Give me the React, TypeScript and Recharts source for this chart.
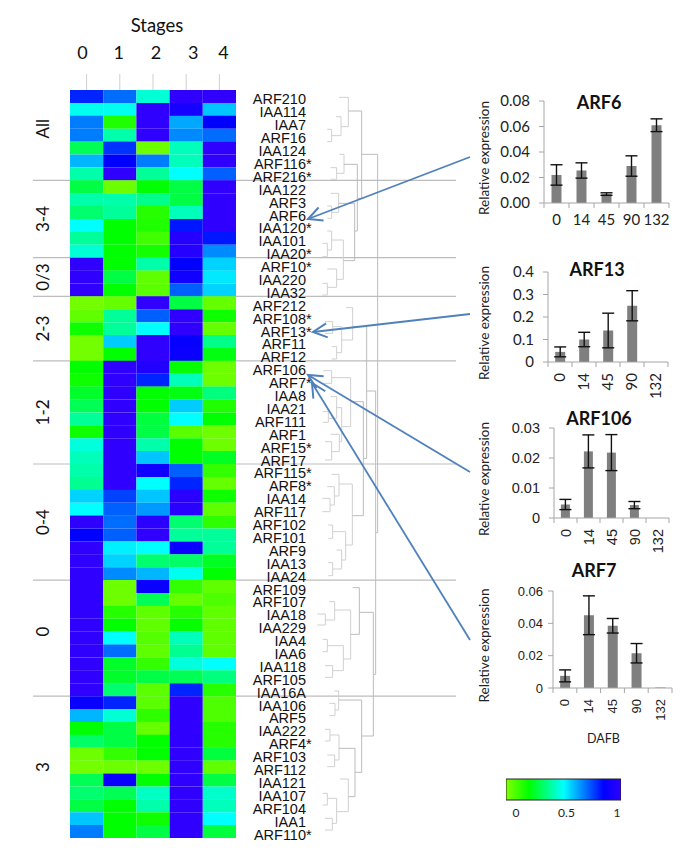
import { Bar, BarChart, Cell, ErrorBar, ReferenceLine, Scatter, ScatterChart, XAxis, YAxis } from 'recharts';

const stageLabels = ['0', '1', '2', '3', '4'];
const stageTicks = [0.5, 1.5, 2.5, 3.5, 4.5];
const stageLabelNudge = [-4, -1, 3, 7, 4];
const stageKeys = ['s0', 's1', 's2', 's3', 's4'];

const geneLabels = [
  'ARF210', 'IAA114', 'IAA7', 'ARF16', 'IAA124', 'ARF116*', 'ARF216*', 'IAA122', 'ARF3', 'ARF6',
  'IAA120*', 'IAA101', 'IAA20*', 'ARF10*', 'IAA220', 'IAA32', 'ARF212', 'ARF108*', 'ARF13*', 'ARF11',
  'ARF12', 'ARF106', 'ARF7*', 'IAA8', 'IAA21', 'ARF111', 'ARF1', 'ARF15*', 'ARF17', 'ARF115*',
  'ARF8*', 'IAA14', 'ARF117', 'ARF102', 'ARF101', 'ARF9', 'IAA13', 'IAA24', 'ARF109', 'ARF107',
  'IAA18', 'IAA229', 'IAA4', 'IAA6', 'IAA118', 'ARF105', 'IAA16A', 'IAA106', 'ARF5', 'IAA222',
  'ARF4*', 'ARF103', 'ARF112', 'IAA121', 'IAA107', 'ARF104', 'IAA1', 'ARF110*',
];

// one row per gene, one column per stage
const heatValues = [
  [0.8, 0.7, 0.45, 1, 1], [0.48, 0.48, 1, 0.92, 0.58], [0.68, 0.15, 1, 0.62, 0.85], [0.68, 0.4, 1, 0.66, 0.7],
  [0.3, 0.78, 0.03, 0.42, 1], [0.6, 0.85, 0.68, 0.42, 1], [0.4, 1, 0.38, 0.5, 0.72], [0.28, 0.03, 0.2, 0.28, 1],
  [0.4, 0.4, 0.36, 0.28, 1], [0.33, 0.38, 0.14, 0.42, 1], [0.5, 0.2, 0.15, 0.82, 1], [0.38, 0.2, 0.1, 0.97, 0.82],
  [0.45, 0.2, 0.17, 0.97, 0.66], [1, 0.2, 0.4, 0.85, 0.56], [1, 0.28, 0.05, 0.9, 0.53], [1, 0.2, 0.06, 0.72, 0.56],
  [0.02, 0.04, 1, 0.28, 0.04], [0.05, 0.38, 0.72, 1, 0.18], [0.18, 0.38, 0.5, 1, 0.04], [0.02, 0.57, 1, 0.87, 0.36],
  [0.02, 0.2, 1, 0.88, 0.22], [0.2, 1, 0.95, 0.19, 0.03], [0.18, 1, 0.8, 0.42, 0.03], [0.25, 1, 0.2, 0.22, 0.35],
  [0.3, 1, 0.2, 0.57, 0.15], [0.38, 1, 0.27, 0.5, 0.2], [0.18, 1, 0.28, 0.06, 0.03], [0.46, 1, 0.4, 0.2, 0.03],
  [0.42, 1, 0.58, 0.2, 0.24], [0.4, 1, 0.9, 0.72, 0.12], [0.37, 1, 0.5, 0.8, 0.04], [0.56, 0.76, 0.58, 0.98, 0.18],
  [0.5, 0.72, 0.64, 0.98, 0.05], [1, 0.7, 0.98, 0.33, 0.13], [0.85, 0.72, 1, 0.38, 0.38], [1, 0.52, 0.5, 0.88, 0.38],
  [1, 0.56, 0.33, 0.32, 0.24], [1, 0.66, 0.6, 0.48, 0.2], [1, 0.03, 0.88, 0.12, 0.05], [1, 0.03, 0.3, 0.04, 0.08],
  [1, 0.14, 0.05, 0.14, 0.05], [1, 0.2, 0.05, 0.19, 0.05], [1, 0.5, 0.07, 0.42, 0.05], [1, 0.7, 0.05, 0.37, 0.05],
  [1, 0.25, 0.12, 0.46, 0.5], [1, 0.25, 0.28, 0.3, 0.35], [1, 0.33, 0.06, 0.8, 0.14], [0.88, 0.8, 0.06, 1, 0.08],
  [0.6, 0.45, 0.13, 1, 0.08], [0.2, 0.28, 0.04, 1, 0.14], [0.32, 0.28, 0.2, 1, 0.14], [0.03, 0.12, 0.2, 1, 0.27],
  [0.02, 0.03, 0.03, 1, 0.05], [0.3, 0.88, 0.2, 1, 0.28], [0.33, 0.3, 0.43, 1, 0.44], [0.28, 0.2, 0.4, 1, 0.42],
  [0.58, 0.2, 0.18, 1, 0.5], [0.68, 0.2, 0.28, 1, 0.27],
];

const groupNames = ['All', '3-4', '0/3', '2-3', '1-2', '0-4', '0', '3'];
const groupCenters = [3, 10, 14.5, 18.5, 25, 33.5, 42, 52.5];
const groupBreaks = [7, 13, 16, 21, 29, 38, 47];

// dendrogram merges: [height, upper position, upper child height, lower position, lower child height]
const merges = [
  [275, 133, 262, 170, 262], [303, 95, 288, 152, 275], [325, 37, 297, 125, 303],
  [290, 248, 272, 283, 272], [312, 208, 298, 265, 290], [275, 363, 262, 400, 262],
  [296, 325, 272, 382, 275], [262, 475, 247, 515, 247], [275, 438, 262, 495, 262],
  [262, 595, 247, 630, 247], [290, 552, 262, 607, 262], [310, 465, 275, 583, 290],
  [344, 355, 296, 527, 310], [352, 238, 312, 438, 344], [365, 78, 325, 340, 352],
  [278, 710, 255, 745, 255], [290, 785, 275, 822, 275], [305, 725, 278, 803, 290],
  [338, 668, 318, 765, 305], [275, 857, 250, 895, 250], [265, 980, 248, 1012, 248],
  [290, 935, 272, 1000, 265], [275, 1070, 255, 1125, 255], [298, 1048, 272, 1100, 275],
  [305, 968, 290, 1070, 298], [332, 878, 275, 1025, 305], [270, 1240, 247, 1280, 247],
  [283, 1205, 262, 1260, 270], [297, 1168, 275, 1233, 283], [278, 1320, 265, 1360, 265],
  [278, 1433, 265, 1472, 265], [305, 1395, 290, 1452, 278], [317, 1340, 278, 1425, 305],
  [337, 1197, 297, 1380, 317], [370, 950, 332, 1292, 337], [380, 725, 338, 1120, 370],
  [256, 1587, 232, 1620, 232], [284, 1550, 268, 1605, 256], [262, 1663, 248, 1700, 248],
  [278, 1742, 255, 1777, 255], [310, 1682, 262, 1757, 278], [332, 1575, 284, 1722, 310],
  [358, 1508, 338, 1648, 332], [285, 1855, 268, 1892, 268], [296, 1818, 283, 1875, 285],
  [270, 1933, 255, 1968, 255], [284, 2010, 262, 2045, 262], [297, 1950, 270, 2025, 284],
  [262, 2125, 248, 2160, 248], [277, 2200, 255, 2235, 255], [290, 2140, 262, 2215, 277],
  [325, 2082, 300, 2180, 290], [345, 1990, 297, 2135, 325], [365, 1845, 296, 2062, 345],
  [400, 1582, 358, 1953, 365], [407, 918, 380, 1768, 400], [413, 208, 365, 1343, 407],
];

const dafbLabels = ['0', '14', '45', '90', '132'];
const arf6Values = [0.022, 0.0255, 0.007, 0.029, 0.061];
const arf6Errors = [0.008, 0.006, 0.001, 0.008, 0.005];
const arf6Ticks = [0, 0.02, 0.04, 0.06, 0.08];
const arf13Values = [0.045, 0.1, 0.14, 0.25, 0];
const arf13Errors = [0.022, 0.032, 0.077, 0.067, 0];
const arf13Ticks = [0, 0.1, 0.2, 0.3, 0.4];
const arf106Values = [0.0045, 0.0222, 0.0218, 0.0043, 0];
const arf106Errors = [0.0017, 0.0055, 0.006, 0.0012, 0];
const arf106Ticks = [0, 0.01, 0.02, 0.03];
const arf7Values = [0.0075, 0.045, 0.0385, 0.0215, 0.0003];
const arf7Errors = [0.0037, 0.012, 0.0045, 0.006, 0];
const arf7Ticks = [0, 0.02, 0.04, 0.06];

const colorStops: [number, number[]][] = [
  [0, [128, 255, 0]],
  [0.2, [0, 255, 0]],
  [0.5, [0, 255, 255]],
  [0.85, [0, 0, 255]],
  [1, [48, 0, 255]],
];
const scaleTicks = [0, 0.5, 1];
const scaleSpan: [number, number] = [-0.099, 1.04];

const toColor = (v: number) => {
  for (let i = 1; i < colorStops.length; i++) {
    const [b, cb] = colorStops[i];
    const [a, ca] = colorStops[i - 1];
    if (v <= b) {
      const t = (v - a) / (b - a);
      return `rgb(${ca.map((c, k) => Math.round(c + (cb[k] - c) * t)).join(',')})`;
    }
  }
  return '#3000ff';
};

const LABEL_FONT = 'Lato, sans-serif';
const GENE_FONT = '"Liberation Sans", Arial, sans-serif';

const heatData = geneLabels.map((gene) => ({ gene, s0: 1, s1: 1, s2: 1, s3: 1, s4: 1 }));
const groupData = groupCenters.map((center) => ({ x: 0, center }));

const StageTick = ({ x, y, payload, index }: any) => (
  <text x={x + stageLabelNudge[index]} y={y - 13} textAnchor="middle" fontFamily={LABEL_FONT} fontSize={18} fill="#111">
    {stageLabels[Math.round(payload.value - 0.5)]}
  </text>
);

const GeneTick = ({ y, payload }: any) => {
  const name = String(payload.value);
  const star = name.endsWith('*');
  return (
    <g fontFamily={GENE_FONT} fontSize={14.5} fill="#111">
      <text x={306} y={y + 8} textAnchor="end">{star ? name.slice(0, -1) : name}</text>
      {star && <text x={306} y={y + 8}>*</text>}
    </g>
  );
};

const GroupTick = ({ y, payload, index }: any) => (
  <text
    transform={`rotate(-90 49 ${y})`}
    x={49}
    y={y}
    textAnchor="middle"
    fontFamily={LABEL_FONT}
    fontSize={17}
    fill="#111"
  >
    {groupNames[index] ?? payload.value}
  </text>
);

const GroupLines = () => (
  <ScatterChart
    width={685}
    height={855}
    margin={{ top: 90, right: 229, bottom: 17, left: 0 }}
    style={{ position: 'absolute', left: 0, top: 0 }}
  >
    <XAxis type="number" dataKey="x" hide domain={[0, 1]} />
    <YAxis
      type="number"
      dataKey="center"
      reversed
      width={33}
      domain={[0, 58]}
      ticks={groupCenters}
      interval={0}
      axisLine={false}
      tickLine={false}
      tick={<GroupTick />}
    />
    <Scatter data={groupData} shape={() => <g />} isAnimationActive={false} />
    {groupBreaks.map((row) => (
      <ReferenceLine key={row} y={row} stroke="#bdbdbd" strokeWidth={1.2} />
    ))}
  </ScatterChart>
);

const Heatmap = () => (
  <BarChart
    width={316}
    height={855}
    layout="vertical"
    data={heatData}
    barCategoryGap={0}
    barGap={0}
    margin={{ top: 50, right: 0, bottom: 17, left: 70 }}
    style={{ position: 'absolute', left: 0, top: 0 }}
  >
    <XAxis
      type="number"
      orientation="top"
      height={40}
      domain={[0, 5]}
      ticks={stageTicks}
      interval={0}
      axisLine={false}
      tickSize={16}
      tickLine={{ stroke: '#cfcfcf' }}
      tick={<StageTick />}
    />
    <YAxis
      type="category"
      dataKey="gene"
      orientation="right"
      width={80}
      interval={0}
      axisLine={false}
      tickLine={false}
      tick={<GeneTick />}
    />
    {stageKeys.map((key, col) => (
      <Bar key={key} dataKey={key} stackId="heat" isAnimationActive={false}>
        {heatData.map((row, i) => (
          <Cell key={row.gene} fill={toColor(heatValues[i][col])} />
        ))}
      </Bar>
    ))}
    <text x={157} y={32} textAnchor="middle" fontFamily={LABEL_FONT} fontSize={18.5} fill="#111">
      Stages
    </text>
  </BarChart>
);

const Dendrogram = () => (
  <ScatterChart
    width={80}
    height={770}
    margin={{ top: 0, right: 0, bottom: 0, left: 0 }}
    style={{ position: 'absolute', left: 310, top: 85 }}
  >
    <XAxis type="number" dataKey="x" hide domain={[210, 450]} />
    <YAxis type="number" dataKey="y" hide reversed domain={[0, 2310]} />
    {merges.map(([h, y1, x1, y2, x2]) => (
      <Scatter
        key={`${h}-${y1}`}
        data={[
          { x: x1, y: y1 },
          { x: h, y: y1 },
          { x: h, y: y2 },
          { x: x2, y: y2 },
        ]}
        line={{ stroke: h > 340 ? '#bcbcbc' : '#d0d0d0', strokeWidth: 1 }}
        shape={() => <g />}
        isAnimationActive={false}
      />
    ))}
  </ScatterChart>
);

interface PanelProps {
  title: string;
  values: number[];
  errors: number[];
  ticks: number[];
  digits?: number;
  rotated?: boolean;
  font?: string;
  tickFontSize: number;
  tickGap?: number;
  axisX: number;
  axisRight: number;
  plotTop: number;
  plotBottom: number;
  titleX: number;
  titleY: number;
}

const ExpressionPanel = ({
  title, values, errors, ticks, digits, rotated, font = LABEL_FONT, tickFontSize, tickGap = 9,
  axisX, axisRight, plotTop, plotBottom, titleX, titleY,
}: PanelProps) => {
  const data = dafbLabels.map((dafb, i) => ({ dafb, value: values[i], err: errors[i] }));
  const top = plotTop - 30;
  const step = (axisRight - axisX) / dafbLabels.length;
  const DafbTick = ({ x, y, payload, index }: any) => {
    const base = plotBottom - top;
    return (
      <g>
        <line x1={x - step / 2} x2={x - step / 2} y1={base} y2={base + 5} stroke="#a6a6a6" />
        {index === dafbLabels.length - 1 && (
          <line x1={x + step / 2} x2={x + step / 2} y1={base} y2={base + 5} stroke="#a6a6a6" />
        )}
        {rotated ? (
          <text
            transform={`rotate(-90 ${x} ${base + 11})`}
            x={x}
            y={base + 11}
            dy={tickFontSize * 0.35}
            textAnchor="end"
            fontFamily={font}
            fontSize={tickFontSize}
            fill="#222"
          >
            {payload.value}
          </text>
        ) : (
          <text x={x} y={y + 14} textAnchor="middle" fontFamily={font} fontSize={tickFontSize} fill="#222">
            {payload.value}
          </text>
        )}
      </g>
    );
  };
  return (
    <BarChart
      width={215}
      height={plotBottom - top + 50}
      data={data}
      barCategoryGap="30%"
      margin={{ top: 30, right: 685 - axisRight, bottom: 0, left: axisX - 470 - 30 }}
      style={{ position: 'absolute', left: 470, top }}
    >
      <XAxis
        dataKey="dafb"
        height={50}
        interval={0}
        axisLine={{ stroke: '#a6a6a6' }}
        tickLine={false}
        tick={<DafbTick />}
      />
      <YAxis
        width={30}
        domain={[0, ticks[ticks.length - 1]]}
        ticks={ticks}
        interval={0}
        axisLine={{ stroke: '#a6a6a6' }}
        tickSize={5}
        tickMargin={tickGap}
        tickLine={{ stroke: '#a6a6a6' }}
        tick={{ fontFamily: font, fontSize: tickFontSize, fill: '#222' }}
        tickFormatter={(v: number) => (digits ? v.toFixed(digits) : String(v))}
      />
      <Bar dataKey="value" fill="#7f7f7f" isAnimationActive={false}>
        <ErrorBar dataKey="err" width={6} stroke="#111" strokeWidth={1.4} isAnimationActive={false} />
      </Bar>
      <text x={titleX - 470} y={titleY - top + 6} textAnchor="middle" fontFamily={LABEL_FONT} fontWeight={700} fontSize={18} fill="#111">
        {title}
      </text>
      <text
        transform={`rotate(-90 16 ${(plotTop + plotBottom) / 2 + 6 - top})`}
        x={16}
        y={(plotTop + plotBottom) / 2 + 6 - top}
        textAnchor="middle"
        dominantBaseline="middle"
        fontFamily={LABEL_FONT}
        fontSize={13.5}
        fill="#222"
      >
        Relative expression
      </text>
    </BarChart>
  );
};

const ColorScale = () => (
  <BarChart
    width={150}
    height={60}
    layout="vertical"
    data={[{ name: 'scale', span: scaleSpan }]}
    barCategoryGap={0}
    margin={{ top: 9, right: 19, bottom: 0, left: 16 }}
    style={{ position: 'absolute', left: 490, top: 770 }}
  >
    <defs>
      <linearGradient id="heatScale" x1="0" x2="1" y1="0" y2="0">
        {colorStops.map(([offset, rgb]) => (
          <stop key={offset} offset={offset} stopColor={`rgb(${rgb.join(',')})`} />
        ))}
      </linearGradient>
    </defs>
    <XAxis
      type="number"
      height={30}
      domain={scaleSpan}
      ticks={scaleTicks}
      interval={0}
      axisLine={false}
      tickLine={false}
      tick={{ fontFamily: LABEL_FONT, fontSize: 12, fill: '#222' }}
      allowDataOverflow
    />
    <YAxis type="category" dataKey="name" hide />
    <Bar dataKey="span" fill="url(#heatScale)" stroke="#222" strokeWidth={1} isAnimationActive={false} />
  </BarChart>
);

const arrowLines = [
  [470, 157, 308, 219],
  [470, 314, 313, 332],
  [470, 472, 308, 375],
  [470, 640, 312, 383],
];

const Arrows = () => (
  <svg width={685} height={855} style={{ position: 'absolute', left: 0, top: 0, pointerEvents: 'none' }}>
    <defs>
      <marker id="open" markerUnits="userSpaceOnUse" markerWidth="22" markerHeight="20" refX="18" refY="10" orient="auto">
        <path d="M4,3 L18,10 L4,17" fill="none" stroke="#4f81bd" strokeWidth={2} />
      </marker>
    </defs>
    {arrowLines.map(([x1, y1, x2, y2]) => (
      <line key={y1} x1={x1} y1={y1} x2={x2} y2={y2} stroke="#4f81bd" strokeWidth={1.8} markerEnd="url(#open)" />
    ))}
  </svg>
);

const App = () => (
  <div style={{ position: 'absolute', left: 0, top: 0, width: 685, height: 855, background: '#fff', overflow: 'hidden' }}>
    <GroupLines />
    <Heatmap />
    <Dendrogram />
    <ExpressionPanel
      title="ARF6" values={arf6Values} errors={arf6Errors} ticks={arf6Ticks} digits={2} tickFontSize={15}
      axisX={544} axisRight={669} plotTop={101} plotBottom={203} titleX={599} titleY={103}
    />
    <ExpressionPanel
      title="ARF13" values={arf13Values} errors={arf13Errors} ticks={arf13Ticks} rotated tickFontSize={15}
      axisX={548} axisRight={668} plotTop={272} plotBottom={362} titleX={597} titleY={270}
    />
    <ExpressionPanel
      title="ARF106" values={arf106Values} errors={arf106Errors} ticks={arf106Ticks} rotated tickFontSize={14.5} font={GENE_FONT}
      axisX={554} axisRight={669} plotTop={428} plotBottom={518} titleX={599} titleY={419}
    />
    <ExpressionPanel
      title="ARF7" values={arf7Values} errors={arf7Errors} ticks={arf7Ticks} rotated tickFontSize={13} tickGap={5} font={GENE_FONT}
      axisX={553} axisRight={672} plotTop={591} plotBottom={688} titleX={594} titleY={571}
    />
    <div style={{ position: 'absolute', left: 587, top: 731, fontFamily: LABEL_FONT, fontSize: 12.5, color: '#222' }}>DAFB</div>
    <ColorScale />
    <Arrows />
  </div>
);

export default App;
